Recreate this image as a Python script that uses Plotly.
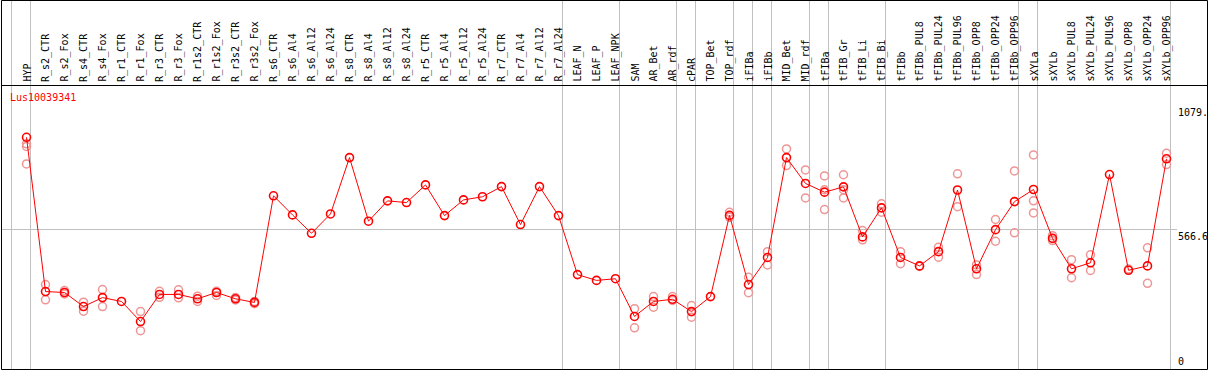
import plotly.graph_objects as go

# ---------------- data ----------------
categories = [
    "HYP", "R_s2_CTR", "R_s2_Fox", "R_s4_CTR", "R_s4_Fox", "R_r1_CTR", "R_r1_Fox",
    "R_r3_CTR", "R_r3_Fox", "R_r1s2_CTR", "R_r1s2_Fox", "R_r3s2_CTR", "R_r3s2_Fox",
    "R_s6_CTR", "R_s6_Al4", "R_s6_Al12", "R_s6_Al24", "R_s8_CTR", "R_s8_Al4",
    "R_s8_Al12", "R_s8_Al24", "R_r5_CTR", "R_r5_Al4", "R_r5_Al12", "R_r5_Al24",
    "R_r7_CTR", "R_r7_Al4", "R_r7_Al12", "R_r7_Al24", "LEAF_N", "LEAF_P", "LEAF_NPK",
    "SAM", "AR_Bet", "AR_rdf", "cPAR", "TOP_Bet", "TOP_rdf", "iFIBa", "iFIBb",
    "MID_Bet", "MID_rdf", "tFIBa", "tFIB_Gr", "tFIB_Li", "tFIB_Bi", "tFIBb",
    "tFIBb_PUL8", "tFIBb_PUL24", "tFIBb_PUL96", "tFIBb_OPP8", "tFIBb_OPP24",
    "tFIBb_OPP96", "sXYLa", "sXYLb", "sXYLb_PUL8", "sXYLb_PUL24", "sXYLb_PUL96",
    "sXYLb_OPP8", "sXYLb_OPP24", "sXYLb_OPP96",
]

mean_values = [
    948, 310, 306, 248, 285, 269, 186, 298, 298, 280, 306, 280, 265,
    706, 627, 551, 631, 864, 601, 685, 678, 751, 624, 689, 702, 744, 587, 744, 624,
    380, 356, 363, 207, 269, 278, 227, 289, 625, 339, 451, 864, 757, 721, 743, 536,
    656, 451, 416, 475, 730, 404, 566, 682, 732, 530, 404, 429, 794, 398, 416, 859,
]

replicate_values = [
    [921, 910, 838],
    [339, 276], [314, 300], [266, 229], [318, 248], [], [227, 148],
    [311, 286], [317, 284], [291, 269], [311, 294], [285, 275], [269, 260],
    [], [], [], [], [], [], [], [], [], [], [], [], [], [], [], [],
    [], [], [],
    [239, 160], [289, 245], [289, 273], [252, 204], [], [638, 617],
    [369, 305], [475, 420], [900, 831], [813, 697], [788, 731, 649],
    [793, 731, 697], [562, 524], [673, 638], [475, 425], [414],
    [493, 452], [797, 661], [420, 380], [608, 518], [809, 553],
    [875, 685, 635], [541, 521], [442, 367], [462, 397], [], [403],
    [491, 344], [882, 835],
]

group_breaks = [-1, 0, 28, 31, 34, 35, 37, 38, 39, 41, 42, 45, 52, 53, 60]
gene_id = "Lus10039341"
scale_max_label = "1079."
scale_max_value = 1079.3
scale_mid_value = 566.6
scale_mid_label = "566.6"
scale_min_label = "0"

# ---------------- layout geometry ----------------
W, H = 1209, 370
COL = 19.0
X0_PX = 26.5
X_LO = -X0_PX / COL
X_HI = X_LO + W / COL
Y_PER = 137.0 / 566.6          # px per unit
Y_ZERO_PX = 366.5
Y_HI = Y_ZERO_PX / Y_PER
Y_LO = (Y_ZERO_PX - H) / Y_PER

def px_x(p):
    return p / W

def px_y(p):
    return 1 - p / H

FONT = "DejaVu Sans Mono"
GRID = "#c0c0c0"

fig = go.Figure()

# replicate points
rx, ry = [], []
for i, reps in enumerate(replicate_values):
    for v in reps:
        rx.append(i)
        ry.append(v)
fig.add_trace(go.Scatter(
    x=rx, y=ry, mode="markers",
    marker=dict(symbol="circle-open", size=8, color="#ee9595", line=dict(width=1.5)),
    hoverinfo="skip", showlegend=False,
))

# mean line
fig.add_trace(go.Scatter(
    x=list(range(len(categories))), y=mean_values, mode="lines+markers",
    line=dict(color="#ff0000", width=1),
    marker=dict(symbol="circle-open", size=8, color="#ff0000", line=dict(width=1.6)),
    text=categories, hovertemplate="%{text}: %{y}<extra></extra>",
    showlegend=False,
))

shapes = []
# vertical group separators
for b in group_breaks:
    xv = b + 4.0 / COL
    shapes.append(dict(type="line", xref="x", yref="paper", x0=xv, x1=xv, y0=px_y(369), y1=1,
                       line=dict(color=GRID, width=1), layer="below"))
# horizontal mid grid line
shapes.append(dict(type="line", xref="paper", yref="y", x0=px_x(1.5), x1=px_x(1177),
                   y0=scale_mid_value, y1=scale_mid_value,
                   line=dict(color=GRID, width=1), layer="below"))
# frame
shapes.append(dict(type="rect", xref="paper", yref="paper",
                   x0=px_x(1.5), x1=px_x(1207.5), y0=px_y(369.5), y1=px_y(0.5),
                   line=dict(color="black", width=1)))
# header separator
shapes.append(dict(type="line", xref="paper", yref="paper",
                   x0=px_x(1.5), x1=px_x(1207.5), y0=px_y(85.5), y1=px_y(85.5),
                   line=dict(color="black", width=1)))

annotations = []
for i, name in enumerate(categories):
    annotations.append(dict(
        x=i, xref="x", y=px_y(83), yref="paper", text=name, textangle=-90,
        xanchor="center", yanchor="bottom", showarrow=False, borderpad=0,
        font=dict(family=FONT, size=10, color="black"),
    ))
annotations.append(dict(
    x=px_x(9), xref="paper", y=px_y(97), yref="paper", text=gene_id,
    xanchor="left", yanchor="middle", showarrow=False, borderpad=0,
    font=dict(family=FONT, size=10, color="#ff0000"),
))
annotations.append(dict(
    x=px_x(1177), xref="paper", y=scale_max_value, yref="y", text=scale_max_label,
    xanchor="left", yanchor="top", showarrow=False, borderpad=0,
    font=dict(family=FONT, size=10, color="black"),
))
annotations.append(dict(
    x=px_x(1177), xref="paper", y=scale_mid_value, yref="y", text=scale_mid_label,
    xanchor="left", yanchor="top", showarrow=False, borderpad=0,
    font=dict(family=FONT, size=10, color="black"),
))
annotations.append(dict(
    x=px_x(1177), xref="paper", y=px_y(368), yref="paper", text=scale_min_label,
    xanchor="left", yanchor="bottom", showarrow=False, borderpad=0,
    font=dict(family=FONT, size=10, color="black"),
))

fig.update_layout(
    width=W, height=H,
    margin=dict(l=0, r=0, t=0, b=0, pad=0),
    paper_bgcolor="white", plot_bgcolor="white",
    xaxis=dict(range=[X_LO, X_HI], visible=False, fixedrange=True),
    yaxis=dict(range=[Y_LO, Y_HI], visible=False, fixedrange=True),
    shapes=shapes, annotations=annotations,
    showlegend=False,
)

fig.write_html(
    "out.html",
    config={"displayModeBar": False},
    post_script="document.body.style.margin='0';document.body.style.overflow='hidden';",
)
